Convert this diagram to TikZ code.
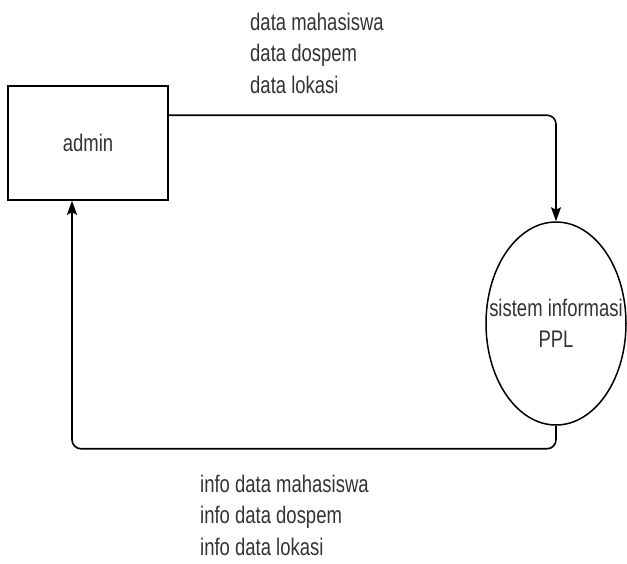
\documentclass[tikz,border=0pt]{standalone}
\usepackage{fontspec}
\setmainfont{Liberation Sans}[FakeStretch=0.77]
\usetikzlibrary{arrows.meta,positioning,shapes.geometric}

\begin{document}
\begin{tikzpicture}[
    x=1pt, y=-1pt,
    font=\fontsize{24}{31.5}\selectfont,
    ent/.style={draw,line width=1.6pt,minimum width=160pt,minimum height=114pt},
    proc/.style={draw,ellipse,line width=1.5pt,minimum width=140pt,minimum height=203pt,inner sep=0pt},
    lbl/.style={align=left,inner sep=0pt,anchor=north west,text=black!80},
    arr/.style={-{Stealth[length=14pt,width=10pt,inset=2.5pt]},line width=1.6pt,rounded corners=9pt}
]
\useasboundingbox (0,0) rectangle (627,563);

\node[ent,text=black!80] (admin) at (88,143) {admin};
\node[proc,label={[align=center,text=black!80]center:sistem informasi\\PPL}] (sistem) at (556,323.5) {};

\node[lbl] (lblmasuk) at (250,12.5) {data mahasiswa\\data dospem\\data lokasi};
\node[lbl] (lblkeluar) at (200,474.5) {info data mahasiswa\\info data dospem\\info data lokasi};

\draw[arr] ([yshift=-30pt]admin.north east) -| (sistem.north);
\draw[arr] (sistem.south) -- ++(0,-23pt) -| ([xshift=-16pt]admin.south);
\end{tikzpicture}
\end{document}
